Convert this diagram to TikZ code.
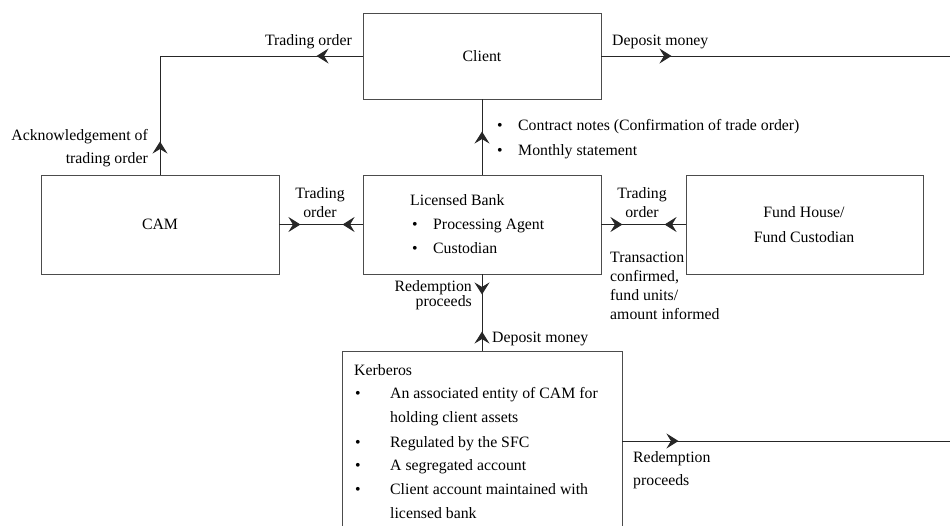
\documentclass[tikz,border=0pt]{standalone}
\usepackage{fontspec}
\setmainfont{Liberation Serif}
\usetikzlibrary{arrows.meta,decorations.markings}
\begin{document}
\begin{tikzpicture}[x=1pt,y=-1pt,
  box/.style={draw=black!70,line width=0.9pt,inner sep=0pt,font=\fontsize{15.8}{19}\selectfont},
  conn/.style={draw=black!85,line width=0.9pt},
  tipat/.style={postaction={decorate,decoration={markings,mark=at position #1 with {\arrow{Stealth[length=12pt,width=15pt,inset=4.5pt]}}}}},
  txt/.style={inner sep=0pt,font=\fontsize{15.8}{19}\selectfont},
  lw/.style={txt,anchor=base west},
  le/.style={txt,anchor=base east},
  lc/.style={txt,anchor=base},
]
\clip (0,0) rectangle (950,525);
\useasboundingbox (0,0) rectangle (950,525);

% boxes
\node[box,minimum width=238pt,minimum height=86pt] (client) at (482,56) {Client};
\node[box,minimum width=238pt,minimum height=99pt] (cam) at (160,224.5) {CAM};
\node[box,minimum width=238pt,minimum height=99pt] (bank) at (482,224.5) {};
\node[box,minimum width=237pt,minimum height=99pt] (fund) at (804.5,224.5) {};
\node[box,minimum width=280pt,minimum height=180pt] (kerb) at (482,441) {};

% helper coordinates
\coordinate (c1) at (160,56);
\coordinate (m1) at (321,224.5);
\coordinate (m2) at (643.5,224.5);
\coordinate (m3) at (482,312);
\coordinate (depend) at (950,56);
\coordinate (redend) at (950,441);

% connectors
\draw[conn,tipat=46pt] (client.west) -- (c1);
\draw[conn,tipat=33pt] (cam.north) -- (c1);
\draw[conn,tipat=21pt] (cam.east) -- (m1);
\draw[conn,tipat=20pt] (bank.west) -- (m1);
\draw[conn,tipat=21pt] (bank.east) -- (m2);
\draw[conn,tipat=21pt] (fund.west) -- (m2);
\draw[conn,tipat=43pt] (bank.north) -- (client.south);
\draw[conn,tipat=70pt] (client.east) -- (depend);
\draw[conn,tipat=20pt] (bank.south) -- (m3);
\draw[conn,tipat=19pt] (kerb.north) -- (m3);
\draw[conn,tipat=56pt] (kerb.east) -- (redend);

% labels
\node[le] (tl) at (352,45) {Trading order};
\node[le] (ack1) at (148,140) {Acknowledgement of};
\node[le] (ack2) at (148,163) {trading order};
\node[lw] (dm) at (612,45) {Deposit money};
\node[lw] (cnb1) at (497,130) {\textbullet};
\node[lw] (cn1) at (518,130) {Contract notes (Confirmation of trade order)};
\node[lw] (cnb2) at (497,155) {\textbullet};
\node[lw] (cn2) at (518,155) {Monthly statement};

\node[lc] (to1a) at (320,198) {Trading};
\node[lc] (to1b) at (320,217) {order};
\node[lc] (to2a) at (642,198) {Trading};
\node[lc] (to2b) at (642,217) {order};

\node[lw] (bk0) at (410,205) {Licensed Bank};
\node[lw] (bkb1) at (412,229) {\textbullet};
\node[lw] (bk1) at (433,229) {Processing Agent};
\node[lw] (bkb2) at (412,253) {\textbullet};
\node[lw] (bk2) at (433,253) {Custodian};

\node[lc] (fh1) at (804,217) {Fund House/};
\node[lc] (fh2) at (804,242) {Fund Custodian};

\node[lw] (tr1) at (610,262) {Transaction};
\node[lw] (tr2) at (610,281) {confirmed,};
\node[lw] (tr3) at (610,300) {fund units/};
\node[lw] (tr4) at (610,319) {amount informed};

\node[le] (rp1) at (472,291) {Redemption};
\node[le] (rp2) at (472,306) {proceeds};
\node[lw] (dm2) at (492,342) {Deposit money};

\node[lw] (kb0) at (354,375) {Kerberos};
\node[lw] (kbb1) at (355,398) {\textbullet};
\node[lw] (kb1) at (390,398) {An associated entity of CAM for};
\node[lw] (kb1b) at (390,422) {holding client assets};
\node[lw] (kbb2) at (355,447) {\textbullet};
\node[lw] (kb2) at (390,447) {Regulated by the SFC};
\node[lw] (kbb3) at (355,470) {\textbullet};
\node[lw] (kb3) at (390,470) {A segregated account};
\node[lw] (kbb4) at (355,494) {\textbullet};
\node[lw] (kb4) at (390,494) {Client account maintained with};
\node[lw] (kb4b) at (390,518) {licensed bank};

\node[lw] (rr1) at (633,462) {Redemption};
\node[lw] (rr2) at (633,485) {proceeds};
\end{tikzpicture}
\end{document}
